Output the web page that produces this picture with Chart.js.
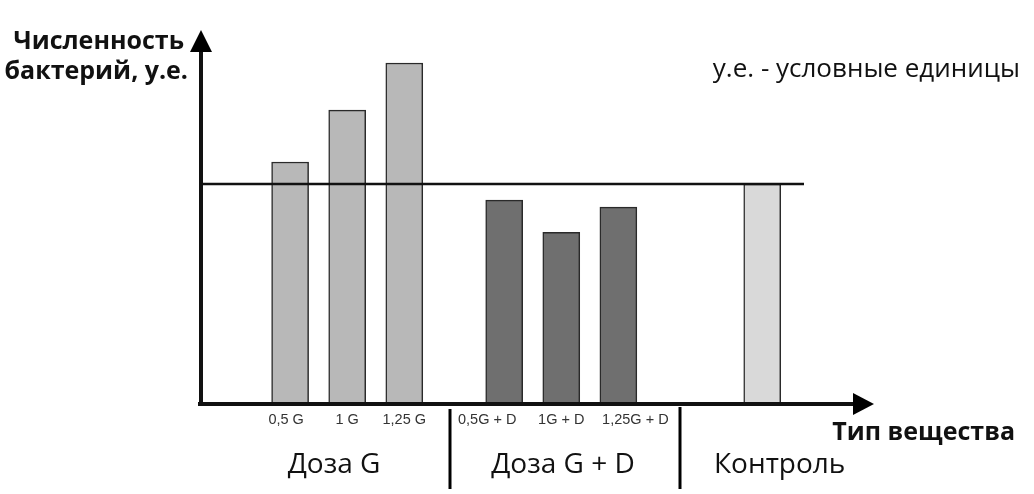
<!DOCTYPE html>
<html>
<head>
<meta charset="utf-8">
<script src="https://cdn.jsdelivr.net/npm/chart.js@4/dist/chart.umd.min.js"></script>
<style>
html,body{margin:0;padding:0;background:#fff;}
#wrap{width:1034px;height:494px;position:relative;}
</style>
</head>
<body>
<div id="wrap"><canvas id="c" width="1034" height="494"></canvas></div>
<script>
// Data
const categories = ['0,5 G', '1 G', '1,25 G', '0,5G + D', '1G + D', '1,25G + D', 'Контроль'];
const groupOf = [0, 0, 0, 1, 1, 1, 2];
const groups = ['Доза G', 'Доза G + D', 'Контроль'];
const values = [110, 133.6, 155, 92.7, 78, 89.5, 100];
const controlLevel = 100;
const yTitle = ['Численность', 'бактерий, у.е.'];
const xTitle = 'Тип вещества';
const note = 'у.е. - условные единицы';

// layout: position of each bar on a linear x axis (slot units)
const slotPos = [0, 1, 2, 3.75, 4.75, 5.75, 8.27];
const labelShift = [-4, 0, 0, -17, 0, 17, 0];
const groupColors = ['#b8b8b8', '#6f6f6f', '#d9d9d9'];

const points = values.map((v, i) => ({x: slotPos[i], y: v}));

const decor = {
  id: 'decor',
  afterDatasetsDraw(chart) {
    const ctx = chart.ctx;
    const xs = chart.scales.x, ys = chart.scales.y;
    const ca = chart.chartArea;
    const x0 = ca.left, y0 = ys.getPixelForValue(0);
    ctx.save();
    // reference line
    ctx.strokeStyle = '#111';
    ctx.lineWidth = 2.5;
    const yr = ys.getPixelForValue(controlLevel);
    ctx.beginPath(); ctx.moveTo(x0, yr); ctx.lineTo(804, yr); ctx.stroke();
    // axes
    ctx.lineWidth = 4;
    ctx.beginPath(); ctx.moveTo(x0, y0 + 2); ctx.lineTo(x0, ca.top + 18); ctx.stroke();
    ctx.beginPath(); ctx.moveTo(x0 - 3, y0); ctx.lineTo(ca.right - 18, y0); ctx.stroke();
    ctx.fillStyle = '#000';
    ctx.beginPath(); ctx.moveTo(x0, ca.top); ctx.lineTo(x0 - 11, ca.top + 22); ctx.lineTo(x0 + 11, ca.top + 22); ctx.closePath(); ctx.fill();
    ctx.beginPath(); ctx.moveTo(ca.right, y0); ctx.lineTo(ca.right - 21, y0 - 11); ctx.lineTo(ca.right - 21, y0 + 11); ctx.closePath(); ctx.fill();
    // tick labels
    ctx.font = '14.5px "Liberation Sans", Arial, sans-serif';
    ctx.textAlign = 'center';
    ctx.textBaseline = 'middle';
    ctx.fillStyle = '#333';
    categories.forEach((c, i) => {
      if (groupOf[i] === 2) return;
      ctx.fillText(c, xs.getPixelForValue(slotPos[i]) + labelShift[i], 420);
    });
    // group labels
    ctx.font = '28px "Open Sans", sans-serif';
    ctx.fillStyle = '#111';
    ctx.textAlign = 'center';
    ctx.fillText(groups[0], 334, 465);
    ctx.fillText(groups[1], 563, 465);
    ctx.textAlign = 'left';
    ctx.fillText(groups[2], 714, 465);
    // separators
    ctx.lineWidth = 3;
    ctx.strokeStyle = '#000';
    ctx.beginPath(); ctx.moveTo(450, 409); ctx.lineTo(450, 489); ctx.stroke();
    ctx.beginPath(); ctx.moveTo(680, 407); ctx.lineTo(680, 489); ctx.stroke();
    // titles
    ctx.font = 'bold 25px "Open Sans", sans-serif';
    ctx.textAlign = 'right';
    ctx.fillStyle = '#111';
    ctx.fillText(yTitle[0], 184, 42);
    ctx.fillText(yTitle[1], 188, 72);
    ctx.fillText(xTitle, 1015, 433);
    ctx.font = '26px "Open Sans", sans-serif';
    ctx.fillText(note, 1020, 70);
    ctx.restore();
  }
};

new Chart(document.getElementById('c'), {
  type: 'bar',
  data: {
    datasets: [{
      data: points,
      backgroundColor: values.map((v, i) => groupColors[groupOf[i]]),
      borderColor: '#2a2a2a',
      borderWidth: 1.5,
      borderSkipped: 'bottom',
      barThickness: 37
    }]
  },
  options: {
    responsive: false,
    animation: false,
    devicePixelRatio: 1,
    layout: {padding: {left: 201, right: 160, top: 30, bottom: 90}},
    plugins: {legend: {display: false}, tooltip: {enabled: false}},
    scales: {
      x: {type: 'linear', display: false, offset: false, min: -1.561, max: 10.228},
      y: {display: false, min: 0, max: 170}
    }
  },
  plugins: [decor]
});
</script>
</body>
</html>
